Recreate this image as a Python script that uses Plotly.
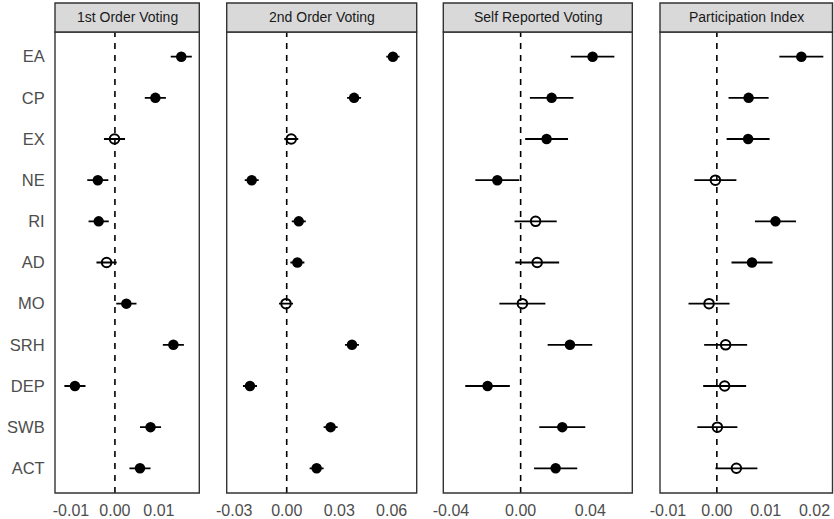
import plotly.graph_objects as go

categories = ["EA", "CP", "EX", "NE", "RI", "AD", "MO", "SRH", "DEP", "SWB", "ACT"]
panel_titles = ["1st Order Voting", "2nd Order Voting", "Self Reported Voting", "Participation Index"]

p1_est = [0.0151, 0.0092, -0.0001, -0.0039, -0.0037, -0.0019, 0.0026, 0.0133, -0.0091, 0.0081, 0.0057]
p1_err = [0.0024, 0.0024, 0.0024, 0.0024, 0.0023, 0.0023, 0.0023, 0.0024, 0.0024, 0.0024, 0.0024]
p1_sig = [1, 1, 0, 1, 1, 0, 1, 1, 1, 1, 1]

p2_est = [0.0607, 0.0385, 0.0026, -0.0200, 0.0069, 0.0061, -0.0004, 0.0373, -0.0210, 0.0251, 0.0171]
p2_err = [0.0038, 0.0040, 0.0040, 0.0040, 0.0040, 0.0040, 0.0040, 0.0040, 0.0040, 0.0040, 0.0040]
p2_sig = [1, 1, 0, 1, 1, 1, 0, 1, 1, 1, 1]

p3_est = [0.0413, 0.0178, 0.0149, -0.0134, 0.0086, 0.0095, 0.0010, 0.0283, -0.0190, 0.0239, 0.0201]
p3_err = [0.0125, 0.0125, 0.0123, 0.0126, 0.0121, 0.0126, 0.0132, 0.0128, 0.0128, 0.0132, 0.0124]
p3_sig = [1, 1, 1, 1, 0, 0, 0, 1, 1, 1, 1]

p4_est = [0.0173, 0.0065, 0.0064, -0.0003, 0.0120, 0.0072, -0.0016, 0.0018, 0.0016, 0.0001, 0.0040]
p4_err = [0.0045, 0.0041, 0.0044, 0.0043, 0.0042, 0.0042, 0.0042, 0.0044, 0.0044, 0.0041, 0.0043]
p4_sig = [1, 1, 1, 0, 1, 1, 0, 0, 0, 0, 0]

x_ranges = [[-0.01364, 0.0192], [-0.0343, 0.0743], [-0.0444, 0.0641], [-0.01164, 0.02368]]
x_ticks = [[-0.01, 0.0, 0.01], [-0.03, 0.0, 0.03, 0.06], [-0.04, 0.0, 0.04], [-0.01, 0.0, 0.01, 0.02]]
x_ticktext = [["-0.01", "0.00", "0.01"], ["-0.03", "0.00", "0.03", "0.06"],
              ["-0.04", "0.00", "0.04"], ["-0.01", "0.00", "0.01", "0.02"]]

panels = [(p1_est, p1_err, p1_sig), (p2_est, p2_err, p2_sig),
          (p3_est, p3_err, p3_sig), (p4_est, p4_err, p4_sig)]

W, H = 834, 519
x_dom_px = [(55, 199.3), (226.7, 416.7), (443.3, 632.3), (660, 832.5)]
body_top, body_bot = 32, 493
strip_top = 3
y_dom = [1 - body_bot / H, 1 - body_top / H]
strip_y = [1 - body_top / H, 1 - strip_top / H]

ypos = [len(categories) - i for i in range(len(categories))]

FONT = "Arial, Liberation Sans, sans-serif"
fig = go.Figure()
layout = dict(width=W, height=H, margin=dict(l=0, r=0, t=0, b=0, autoexpand=False),
              paper_bgcolor="white", plot_bgcolor="white", showlegend=False,
              font=dict(family=FONT))
shapes = []
annotations = []

for k, (est, err, sig) in enumerate(panels):
    xa = "x" if k == 0 else f"x{k+1}"
    ya = "y" if k == 0 else f"y{k+1}"
    for flag in (1, 0):
        idx = [i for i in range(len(est)) if sig[i] == flag]
        if not idx:
            continue
        fig.add_trace(go.Scatter(
            x=[est[i] for i in idx], y=[ypos[i] for i in idx],
            xaxis=xa, yaxis=ya, mode="markers",
            error_x=dict(type="data", array=[err[i] for i in idx], symmetric=True,
                         thickness=1.8, width=0, color="black"),
            marker=dict(symbol="circle" if flag else "circle-open",
                        size=10.5 if flag else 9.5, color="black",
                        line=dict(width=2 if not flag else 0, color="black")),
            hoverinfo="skip"))
    xd = [x_dom_px[k][0] / W, x_dom_px[k][1] / W]
    layout[f"xaxis{'' if k == 0 else k+1}"] = dict(
        domain=xd, range=x_ranges[k], tickvals=x_ticks[k], ticktext=x_ticktext[k],
        showgrid=False, zeroline=False, showline=False, ticks="outside", ticklen=3,
        tickcolor="rgba(0,0,0,0)", tickfont=dict(size=16, color="#4d4d4d", family=FONT),
        anchor=ya, fixedrange=True, automargin=False)
    layout[f"yaxis{'' if k == 0 else k+1}"] = dict(
        domain=y_dom, range=[0.4, len(categories) + 0.6],
        tickvals=ypos, ticktext=categories if k == 0 else None,
        showticklabels=(k == 0), showgrid=False, zeroline=False, showline=False,
        ticks="outside" if k == 0 else "", ticklen=6, tickcolor="rgba(0,0,0,0)",
        tickfont=dict(size=16.5, color="#4d4d4d", family=FONT),
        anchor=xa, fixedrange=True, automargin=False)
    xdom_ref = f"{xa} domain"
    ydom_ref = f"{ya} domain"
    # dashed zero line
    shapes.append(dict(type="line", xref=xa, yref=ydom_ref, x0=0, x1=0, y0=0, y1=1,
                       line=dict(color="black", width=1.6, dash="6px,6px"), layer="below"))
    # panel border
    shapes.append(dict(type="rect", xref=xdom_ref, yref=ydom_ref, x0=0, x1=1, y0=0, y1=1,
                       line=dict(color="#333333", width=1.4), fillcolor="rgba(0,0,0,0)",
                       layer="above"))
    # strip
    shapes.append(dict(type="rect", xref=xdom_ref, yref="paper", x0=0, x1=1,
                       y0=strip_y[0], y1=strip_y[1],
                       line=dict(color="#333333", width=1.4), fillcolor="#d9d9d9",
                       layer="above"))
    annotations.append(dict(text=panel_titles[k], xref=xdom_ref, yref="paper",
                            x=0.5, y=(strip_y[0] + strip_y[1]) / 2, showarrow=False,
                            xanchor="center", yanchor="middle",
                            font=dict(size=14, color="#1a1a1a", family=FONT)))

layout["shapes"] = shapes
layout["annotations"] = annotations
fig.update_layout(**layout)
fig.write_html("out.html", post_script="document.body.style.margin='0';",
               config={"displayModeBar": False})
